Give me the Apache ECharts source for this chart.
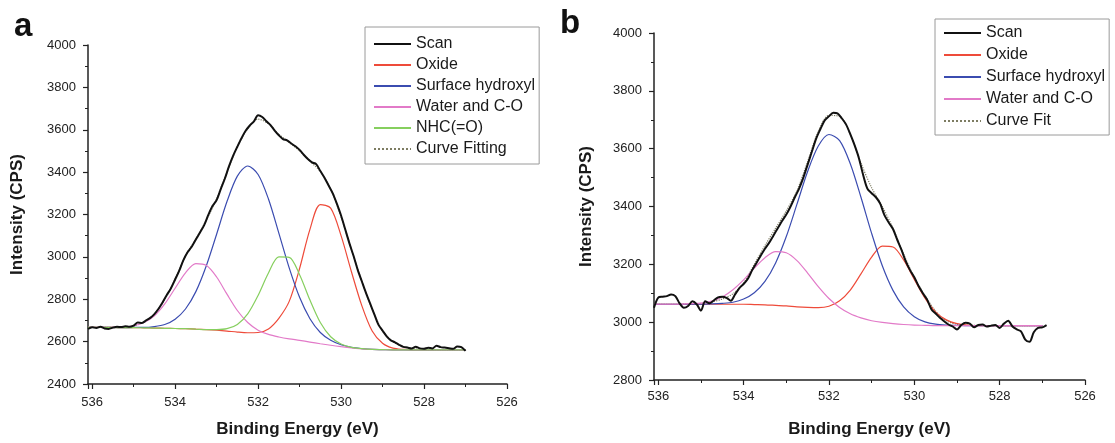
<!DOCTYPE html>
<html style="height: 100%">
<head>
    <meta charset="utf-8">
</head>
<body style="height: 100%; margin: 0; background: #fff">
<div id="xps_container" style="height: 443px; width: 1115px"></div>
<script src="https://cdn.jsdelivr.net/npm/echarts@6/dist/echarts.min.js"></script>
<script type="text/javascript">
    // binding energy of the raw scans (eV), 0.1 eV step
    var scanE = [536.1, 536.0, 535.9, 535.8, 535.7, 535.6, 535.5, 535.4, 535.3, 535.2,
        535.1, 535.0, 534.9, 534.8, 534.7, 534.6, 534.5, 534.4, 534.3, 534.2,
        534.1, 534.0, 533.9, 533.8, 533.7, 533.6, 533.5, 533.4, 533.3, 533.2,
        533.1, 533.0, 532.9, 532.8, 532.7, 532.6, 532.5, 532.4, 532.3, 532.2,
        532.1, 532.0, 531.9, 531.8, 531.7, 531.6, 531.5, 531.4, 531.3, 531.2,
        531.1, 531.0, 530.9, 530.8, 530.7, 530.6, 530.5, 530.4, 530.3, 530.2,
        530.1, 530.0, 529.9, 529.8, 529.7, 529.6, 529.5, 529.4, 529.3, 529.2,
        529.1, 529.0, 528.9, 528.8, 528.7, 528.6, 528.5, 528.4, 528.3, 528.2,
        528.1, 528.0, 527.9, 527.8, 527.7, 527.6, 527.5, 527.4, 527.3, 527.2,
        527.1, 527.0, 526.9];

    // binding energy of the fitted components (eV)
    var fitE = [536.1, 535.75, 535.5, 535.25, 535, 534.75, 534.5, 534.25, 534, 533.75,
        533.5, 533.25, 533, 532.75, 532.5, 532.25, 532, 531.75, 531.5, 531.25,
        531, 530.75, 530.5, 530.25, 530, 529.75, 529.5, 529.25, 529, 528.75,
        528.5, 528.25, 528, 527.75, 527.5, 527.25, 527];

    // panel a
    var scanA = [2660, 2668, 2664, 2670, 2662, 2660, 2666, 2670, 2669, 2672,
        2670, 2676, 2690, 2688, 2700, 2712, 2730, 2755, 2786, 2820,
        2852, 2893, 2935, 2985, 3022, 3048, 3082, 3115, 3150, 3198,
        3240, 3268, 3320, 3370, 3428, 3478, 3520, 3560, 3595, 3620,
        3640, 3668, 3660, 3640, 3622, 3596, 3574, 3556, 3550, 3535,
        3522, 3505, 3482, 3462, 3446, 3438, 3405, 3374, 3337, 3300,
        3250, 3195, 3130, 3065, 3005, 2940, 2885, 2830, 2780, 2730,
        2680, 2652, 2625, 2606, 2597, 2585, 2575, 2572, 2568, 2576,
        2568, 2566, 2571, 2568, 2580, 2574, 2572, 2569, 2566, 2577,
        2574, 2556];
    var oxideA = [2667, 2667, 2667, 2666, 2666, 2665, 2664, 2663, 2662, 2661,
        2659, 2657, 2654, 2650, 2645, 2642, 2643, 2660, 2710, 2790,
        2945, 3130, 3247, 3230, 3100, 2930, 2770, 2650, 2592, 2569,
        2563, 2561, 2561, 2561, 2561, 2561, 2561];
    var hydroxylA = [2667, 2667, 2667, 2666, 2667, 2667, 2671, 2681, 2706, 2754,
        2836, 2957, 3107, 3261, 3381, 3429, 3389, 3273, 3112, 2948,
        2809, 2708, 2643, 2606, 2585, 2573, 2567, 2563, 2562, 2561,
        2561, 2561, 2561, 2561, 2561, 2561, 2561];
    var waterA = [2667, 2667, 2668, 2669, 2675, 2690, 2722, 2778, 2852, 2925,
        2968, 2960, 2905, 2824, 2747, 2690, 2654, 2634, 2622, 2613,
        2606, 2598, 2590, 2583, 2576, 2570, 2566, 2563, 2562, 2561,
        2561, 2561, 2561, 2561, 2561, 2561, 2561];
    var nhcA = [2667, 2667, 2667, 2666, 2666, 2665, 2664, 2663, 2662, 2661,
        2659, 2657, 2657, 2661, 2681, 2731, 2818, 2924, 3000, 2998,
        2916, 2796, 2690, 2623, 2589, 2573, 2567, 2563, 2562, 2561,
        2561, 2561, 2561, 2561, 2561, 2561, 2561];
    var fitA = [2667, 2667, 2667, 2669, 2674, 2692, 2728, 2800, 2895, 3005,
        3085, 3172, 3275, 3400, 3520, 3605, 3650, 3628, 3578, 3540,
        3500, 3452, 3403, 3320, 3190, 3035, 2885, 2753, 2650, 2600,
        2576, 2566, 2563, 2562, 2561, 2561, 2561];

    // panel b
    var scanB = [3050, 3085, 3088, 3090, 3096, 3090, 3065, 3050, 3056, 3072,
        3062, 3040, 3072, 3065, 3075, 3086, 3088, 3084, 3074, 3096,
        3118, 3132, 3150, 3180, 3205, 3230, 3254, 3275, 3300, 3325,
        3350, 3372, 3400, 3432, 3462, 3500, 3545, 3590, 3635, 3668,
        3698, 3712, 3724, 3722, 3705, 3684, 3650, 3612, 3568, 3510,
        3462, 3446, 3432, 3410, 3370, 3345, 3322, 3285, 3250, 3210,
        3180, 3155, 3125, 3100, 3078, 3045, 3030, 3015, 3003, 2992,
        2985, 2975, 2990, 2998, 2995, 2982, 2990, 2992, 2985, 2988,
        2990, 2980, 2995, 3005, 2985, 2975, 2968, 2940, 2932, 2965,
        2980, 2982, 2990];
    var oxideB = [3062, 3062, 3062, 3062, 3062, 3062, 3062, 3062, 3062, 3061,
        3060, 3058, 3056, 3053, 3051, 3050, 3055, 3074, 3111, 3167,
        3225, 3263, 3260, 3215, 3148, 3083, 3035, 3008, 2995, 2990,
        2988, 2988, 2988, 2988, 2988, 2988, 2988];
    var hydroxylB = [3062, 3062, 3062, 3062, 3062, 3063, 3065, 3069, 3080, 3102,
        3141, 3205, 3296, 3408, 3521, 3609, 3649, 3628, 3548, 3432,
        3307, 3195, 3110, 3053, 3019, 3001, 2993, 2990, 2989, 2988,
        2988, 2988, 2988, 2988, 2988, 2988, 2988];
    var waterB = [3062, 3062, 3062, 3064, 3066, 3073, 3087, 3112, 3146, 3187,
        3223, 3244, 3240, 3213, 3170, 3123, 3082, 3051, 3029, 3015,
        3005, 2999, 2995, 2992, 2990, 2989, 2988, 2988, 2988, 2988,
        2988, 2988, 2988, 2988, 2988, 2988, 2988];
    var fitB = [3062, 3062, 3062, 3063, 3065, 3070, 3080, 3098, 3135, 3200,
        3265, 3325, 3385, 3455, 3555, 3660, 3715, 3712, 3650, 3550,
        3465, 3400, 3325, 3235, 3155, 3092, 3038, 3005, 2993, 2990,
        2989, 2988, 2988, 2988, 2988, 2988, 2988];

    var xTicks = [536, 534, 532, 530, 528, 526];
    var legendA = ['Scan', 'Oxide', 'Surface hydroxyl', 'Water and C-O', 'NHC(=O)', 'Curve Fitting'];
    var legendB = ['Scan', 'Oxide', 'Surface hydroxyl', 'Water and C-O', 'Curve Fit'];

    var FONT = "'Liberation Sans', Arial, sans-serif";
    var colors = {
        scan: '#111111',
        oxide: '#ee4b3a',
        hydroxyl: '#3b4cb0',
        water: '#e27ac8',
        nhc: '#86cf5e',
        fit: '#7d7c62'
    };

    function pairs(xs, ys) {
        var out = [];
        for (var i = 0; i < ys.length; i++) {
            out.push([xs[i], ys[i]]);
        }
        return out;
    }

    function line(name, idx, xs, ys, color, width, type, z) {
        return {
            name: name,
            type: 'line',
            xAxisIndex: idx,
            yAxisIndex: idx,
            data: pairs(xs, ys),
            symbol: 'none',
            smooth: 0.3,
            z: z,
            lineStyle: { color: color, width: width, type: type || 'solid' },
            itemStyle: { color: color }
        };
    }

    function xAxisOf(idx) {
        return {
            type: 'value',
            gridIndex: idx,
            inverse: true,
            min: 526,
            max: 536.1,
            interval: 2,
            name: 'Binding Energy (eV)',
            nameLocation: 'middle',
            nameGap: idx === 0 ? 37 : 41,
            nameTextStyle: { fontFamily: FONT, fontSize: 17, fontWeight: 'bold', color: '#1a1a1a' },
            axisLine: { onZero: false, lineStyle: { color: '#222', width: 1.5 } },
            axisTick: { length: 5, lineStyle: { color: '#222', width: 1.2 } },
            minorTick: { show: true, splitNumber: 2, length: 3, lineStyle: { color: '#222', width: 1 } },
            splitLine: { show: false },
            axisLabel: {
                margin: idx === 0 ? 12 : 10,
                fontFamily: FONT,
                fontSize: 13,
                color: '#222',
                formatter: function (v) {
                    return xTicks.indexOf(v) >= 0 ? String(v) : '';
                }
            }
        };
    }

    function yAxisOf(idx, min) {
        return {
            type: 'value',
            gridIndex: idx,
            min: min,
            max: 4000,
            interval: 200,
            name: 'Intensity (CPS)',
            nameLocation: 'middle',
            nameRotate: 90,
            nameGap: idx === 0 ? 62 : 59,
            nameTextStyle: { fontFamily: FONT, fontSize: 17, fontWeight: 'bold', color: '#1a1a1a' },
            axisLine: { show: true, onZero: false, lineStyle: { color: '#222', width: 1.5 } },
            axisTick: { length: 5, lineStyle: { color: '#222', width: 1.2 } },
            minorTick: { show: true, splitNumber: 2, length: 3, lineStyle: { color: '#222', width: 1 } },
            splitLine: { show: false },
            axisLabel: {
                margin: 12,
                fontFamily: FONT,
                fontSize: 13,
                color: '#222',
                formatter: function (v) { return String(v); }
            }
        };
    }

    function legendOf(names, left, top, padding, gap) {
        return {
            data: names,
            orient: 'vertical',
            left: left,
            top: top,
            padding: padding,
            itemGap: gap,
            itemWidth: 37,
            itemHeight: 14,
            itemStyle: { opacity: 0 },
            borderColor: '#9a9a9a',
            borderWidth: 1,
            backgroundColor: '#fff',
            selectedMode: false,
            textStyle: { fontFamily: FONT, fontSize: 16, color: '#1a1a1a' }
        };
    }

    var xps_dom = document.getElementById('xps_container');
    var xps_chart = echarts.init(xps_dom, null, { renderer: 'canvas' });

    var xps_option = {
        backgroundColor: '#ffffff',
        animation: false,
        title: [
            { text: 'a', left: 9, top: 5, textStyle: { fontFamily: FONT, fontSize: 33, fontWeight: 'bold', color: '#111' } },
            { text: 'b', left: 555, top: 2, textStyle: { fontFamily: FONT, fontSize: 33, fontWeight: 'bold', color: '#111' } }
        ],
        grid: [
            { left: 88, right: 608, top: 45, bottom: 57 },
            { left: 654, right: 30, top: 33, bottom: 61 }
        ],
        legend: [
            legendOf(legendA, 365, 27, [9, 4, 7, 8], 5),
            legendOf(legendB, 935, 19, [6, 4, 6, 8], 6)
        ],
        xAxis: [xAxisOf(0), xAxisOf(1)],
        yAxis: [yAxisOf(0, 2400), yAxisOf(1, 2800)],
        series: [
            line('Curve Fitting', 0, fitE, fitA, colors.fit, 1.2, 'dotted', 2),
            line('Oxide', 0, fitE, oxideA, colors.oxide, 1.2, 'solid', 3),
            line('Surface hydroxyl', 0, fitE, hydroxylA, colors.hydroxyl, 1.2, 'solid', 3),
            line('Water and C-O', 0, fitE, waterA, colors.water, 1.2, 'solid', 3),
            line('NHC(=O)', 0, fitE, nhcA, colors.nhc, 1.2, 'solid', 3),
            line('Scan', 0, scanE, scanA, colors.scan, 2, 'solid', 4),

            line('Curve Fit', 1, fitE, fitB, colors.fit, 1.2, 'dotted', 2),
            line('Oxide', 1, fitE, oxideB, colors.oxide, 1.2, 'solid', 3),
            line('Surface hydroxyl', 1, fitE, hydroxylB, colors.hydroxyl, 1.2, 'solid', 3),
            line('Water and C-O', 1, fitE, waterB, colors.water, 1.2, 'solid', 3),
            line('Scan', 1, scanE, scanB, colors.scan, 2, 'solid', 4)
        ]
    };

    if (xps_option && typeof xps_option === 'object') {
        xps_chart.setOption(xps_option, true);
    }
</script>
</body>
</html>
